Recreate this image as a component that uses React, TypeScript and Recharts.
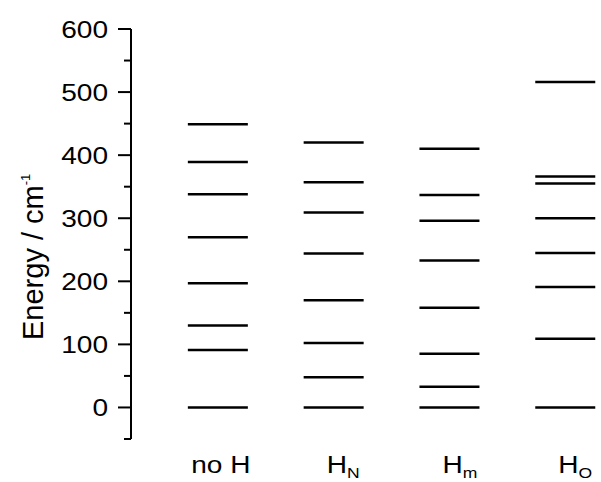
import React from "react";
import { ScatterChart, Scatter, XAxis, YAxis } from "recharts";

// energy levels (cm^-1)
const categories = ["no H", "H", "H", "H"];
const categorySubs = ["", "N", "m", "O"];
const noH = [0, 91, 130, 197, 270, 338, 389, 449];
const hN = [0, 48, 102, 170, 244, 309, 357, 420];
const hM = [0, 33, 85, 158, 233, 296, 337, 410];
const hO = [0, 109, 191, 245, 300, 355, 366, 516];
const yTicks = [-50, 0, 50, 100, 150, 200, 250, 300, 350, 400, 450, 500, 550, 600];

const levels = [noH, hN, hM, hO];
const points = levels.flatMap((arr, i) => arr.map((e) => ({ x: i, y: e })));

const FONT = "'Liberation Sans', Arial, Helvetica, sans-serif";

const LevelLine = (props: any) => {
  const { cx, cy } = props;
  return <line x1={cx - 30} x2={cx + 30} y1={cy} y2={cy} stroke="#000" strokeWidth={2.5} />;
};

const YTick = (props: any) => {
  const { x, y, payload } = props;
  const v = payload.value;
  const major = v % 100 === 0;
  return (
    <g>
      <line x1={x - (major ? 13 : 7)} x2={x} y1={y} y2={y} stroke="#000" strokeWidth={2} />
      {major && (
        <text
          transform={`translate(${x - 23},${y + 8.5}) scale(1.17,1)`}
          textAnchor="end"
          fontSize={24}
          fontFamily={FONT}
          fill="#000"
        >
          {v}
        </text>
      )}
    </g>
  );
};

const XTick = (props: any) => {
  const { x, y, payload } = props;
  const i = payload.value;
  const main = categories[i];
  const sub = categorySubs[i];
  if (!sub) {
    return (
      <text
        transform={`translate(${x + 3},${y + 34}) scale(1.17,1)`}
        textAnchor="middle"
        fontSize={24}
        fontFamily={FONT}
        fill="#000"
      >
        {main}
      </text>
    );
  }
  return (
    <text
      transform={`translate(${x - 7},${y + 34}) scale(1.17,1)`}
      textAnchor="start"
      fontSize={24}
      fontFamily={FONT}
      fill="#000"
    >
      {main}
      <tspan fontSize={15} dy={5}>
        {sub}
      </tspan>
    </text>
  );
};

const YLabel = () => (
  <text transform="translate(43,340) rotate(-90)" fontSize={29} fontFamily={FONT} fill="#000">
    Energy / cm
    <tspan fontSize={13} dy={-13}>
      -1
    </tspan>
  </text>
);

export default function App() {
  return (
    <div style={{ position: "absolute", left: 0, top: 0, background: "#fff" }}>
      <ScatterChart width={601} height={482} margin={{ top: 29, right: 1, bottom: 0, left: 0 }}>
        <XAxis
          type="number"
          dataKey="x"
          domain={[-0.75, 3.3]}
          ticks={[0, 1, 2, 3]}
          interval={0}
          axisLine={false}
          tickLine={false}
          tickSize={0}
          tickMargin={0}
          height={43}
          tick={<XTick />}
        />
        <YAxis
          type="number"
          dataKey="y"
          domain={[-50, 600]}
          ticks={yTicks}
          interval={0}
          width={131}
          axisLine={{ stroke: "#000", strokeWidth: 2 }}
          tickLine={false}
          tickSize={0}
          tickMargin={0}
          tick={<YTick />}
          label={{ content: () => <YLabel /> }}
        />
        <Scatter data={points} shape={<LevelLine />} isAnimationActive={false} />
      </ScatterChart>
    </div>
  );
}
